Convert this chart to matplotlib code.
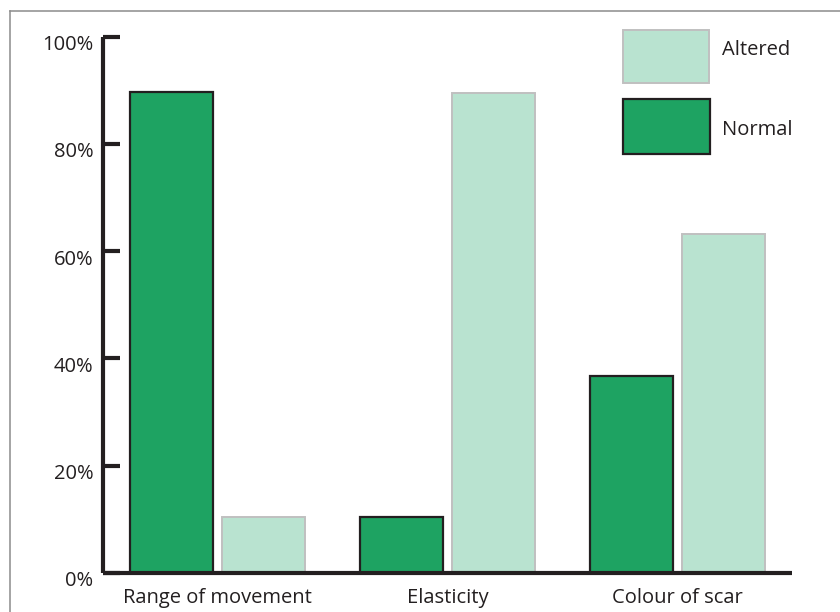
import matplotlib
matplotlib.use("Agg")
import matplotlib.pyplot as plt
import matplotlib.transforms as mtransforms
from matplotlib.lines import Line2D
from matplotlib.patches import Rectangle
import numpy as np

categories = ["Range of movement", "Elasticity", "Colour of scar"]
normal = [89.6, 10.5, 36.8]
altered = [10.4, 89.5, 63.2]
y_ticks = [0, 20, 40, 60, 80, 100]
y_tick_labels = ["0%", "20%", "40%", "60%", "80%", "100%"]

NORMAL_COLOR = "#1ea362"
ALTERED_COLOR = "#b9e3d0"
ALTERED_EDGE = "#c0c0c0"
DARK = "#231f20"

plt.rcParams["font.family"] = ["Open Sans", "DejaVu Sans"]

W, H = 840, 612
fig = plt.figure(figsize=(W / 100, H / 100), dpi=100)

# axes box in pixel coordinates (left, top, right, bottom)
left_px, top_px, right_px, bottom_px = 103, 36.5, 792, 573
ax = fig.add_axes([left_px / W, 1 - bottom_px / H,
                   (right_px - left_px) / W, (bottom_px - top_px) / H])

x = np.arange(len(categories))
bar_w = 0.362
offset = 0.2
ax.bar(x - offset, normal, bar_w, color=NORMAL_COLOR, edgecolor=DARK,
       linewidth=1.6, zorder=1)
ax.bar(x + offset, altered, bar_w, color=ALTERED_COLOR, edgecolor=ALTERED_EDGE,
       linewidth=1.4, zorder=1)

ax.set_xlim(-0.5, 2.5)
ax.set_ylim(0, 100)

for side in ["top", "right"]:
    ax.spines[side].set_visible(False)
for side in ["left", "bottom"]:
    ax.spines[side].set_color(DARK)
    ax.spines[side].set_linewidth(3)
    ax.spines[side].set_capstyle("butt")

ax.set_yticks(y_ticks)
ax.set_yticklabels(y_tick_labels)
ax.tick_params(axis="y", direction="in", length=12.5, width=3, color=DARK,
               pad=7, labelsize=14.5, labelcolor=DARK)
ax.set_xticks(x)
ax.set_xticklabels(categories)
ax.tick_params(axis="x", length=0, pad=11, labelsize=14.5, labelcolor=DARK)

# y labels sit slightly below their ticks
shift = mtransforms.ScaledTranslation(0, -6 / 100, fig.dpi_scale_trans)
for lbl in ax.get_yticklabels():
    lbl.set_transform(lbl.get_transform() + shift)

# legend key boxes, placed in pixel units (x, top, w, h, text y)
legend_items = [
    ("Altered", ALTERED_COLOR, ALTERED_EDGE, 1.4, (623, 30, 86, 53, 50)),
    ("Normal", NORMAL_COLOR, DARK, 1.6, (623, 99, 87, 55, 130)),
]
for label, face, edge, lw, (px, py, pw, ph, ty) in legend_items:
    fig.add_artist(Rectangle((px / W, 1 - (py + ph) / H), pw / W, ph / H,
                             facecolor=face, edgecolor=edge, linewidth=lw,
                             transform=fig.transFigure))
    fig.text(722 / W, 1 - ty / H, label, fontsize=14.5, color=DARK,
             ha="left", va="center")

# thin grey frame along top and left edges
fig.add_artist(Line2D([10 / W, 10 / W], [0, 1 - 11 / H], color="#8c8c8c",
                      linewidth=1.1, transform=fig.transFigure))
fig.add_artist(Line2D([10 / W, 1], [1 - 11 / H, 1 - 11 / H], color="#8c8c8c",
                      linewidth=1.1, transform=fig.transFigure))

fig.savefig("out.png", dpi=100, facecolor="white")
